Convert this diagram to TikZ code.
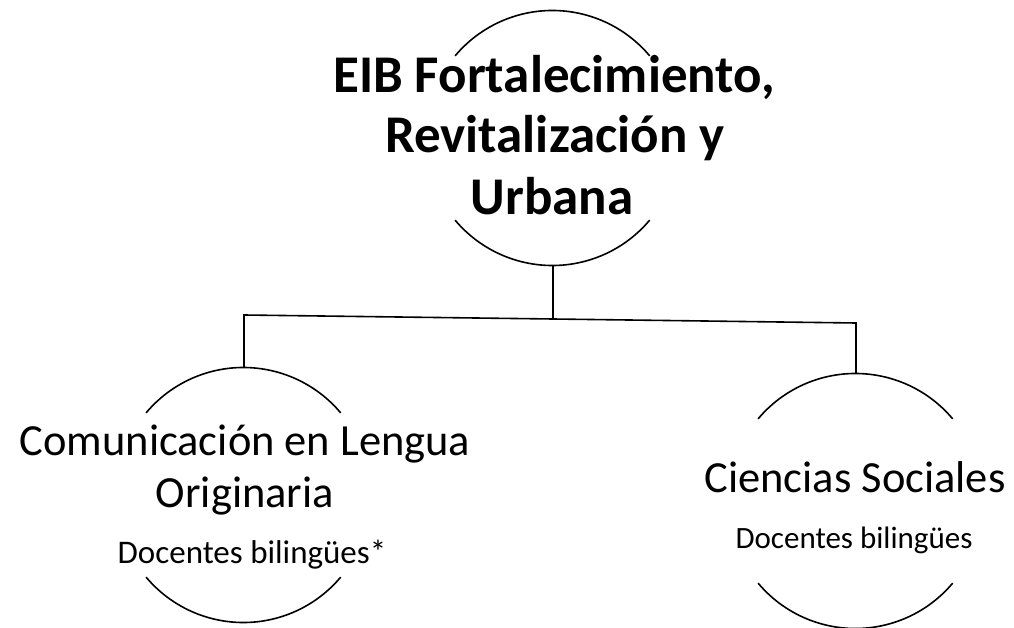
\documentclass[tikz,border=0pt]{standalone}
\usepackage{fontspec}
\setmainfont{Carlito}
\begin{document}
\begin{tikzpicture}[x=1pt,y=-1pt,
  line width=1.6pt,
  ring/.style={circle,minimum size=254pt,inner sep=0pt},
  titletext/.style={anchor=base,inner sep=0pt,font=\fontsize{53}{61}\selectfont\bfseries},
  bigtext/.style={anchor=base,inner sep=0pt,font=\fontsize{44.5}{52}\selectfont},
  smalltext/.style={anchor=base,inner sep=0pt,font=\fontsize{31}{36}\selectfont}]
\useasboundingbox (0,0) rectangle (1014,628);
% circles (only arcs drawn)
\node[ring] (tc) at (553,138) {};
\node[ring] (lc) at (244,495) {};
\node[ring] (rc) at (856,501) {};
\draw (tc.140) arc[start angle=140,end angle=40,radius=127pt];
\draw (tc.-140) arc[start angle=-140,end angle=-40,radius=127pt];
\draw (lc.140) arc[start angle=140,end angle=40,radius=127pt];
\draw (lc.-140) arc[start angle=-140,end angle=-40,radius=127pt];
\draw (rc.140) arc[start angle=140,end angle=40,radius=127pt];
\draw (rc.-140) arc[start angle=-140,end angle=-40,radius=127pt];
% texts
\node[titletext] (t1) at (554,93) {EIB Fortalecimiento,};
\node[titletext] (t2) at (555,153) {Revitalización y};
\node[titletext] (t3) at (552,215) {Urbana};
\node[bigtext] (l1) at (245,455) {Comunicación en Lengua};
\node[bigtext] (l2) at (245,507) {Originaria};
\node[smalltext,font=\fontsize{33}{38}\selectfont] (l3) at (252,563) {Docentes bilingües*};
\node[bigtext] (r1) at (855,492) {Ciencias Sociales};
\node[smalltext] (r2) at (854,548) {Docentes bilingües};
% connectors
\coordinate (tj) at (553,319);
\coordinate (lj) at (244,315);
\coordinate (rj) at (856,323);
\draw (tc.south) -- (tj);
\draw (lc.north) -- (lj) -- (tj) -- (rj) -- (rc.north);
\end{tikzpicture}
\end{document}
